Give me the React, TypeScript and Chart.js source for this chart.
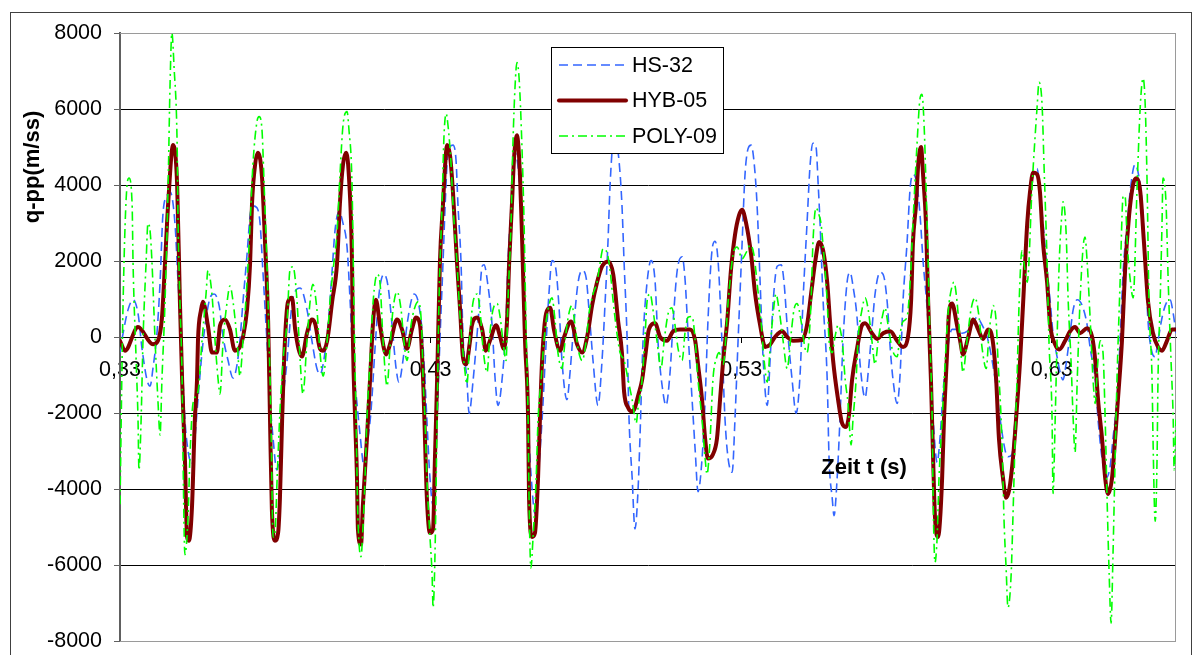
import React, { useEffect, useRef } from 'react';
import { Chart, registerables } from 'chart.js';

Chart.register(...registerables);

const FONT = 'Arial, "Liberation Sans", Helvetica, sans-serif';

const seriesNames = ['HS-32', 'HYB-05', 'POLY-09'];
const xTickValues = [0.33, 0.43, 0.53, 0.63];
const xTickLabels = ['0,33', '0,43', '0,53', '0,63'];
const yTickValues = [-8000, -6000, -4000, -2000, 0, 2000, 4000, 6000, 8000];
const xAxisTitle = 'Zeit t (s)';
const yAxisTitle = 'q-pp(m/ss)';

// HS-32 (blue dashed)
const hsTime = [
  0.3300, 0.3310, 0.3326, 0.3342, 0.3358, 0.3371, 0.3387, 0.3397, 0.3406, 0.3419,
  0.3429, 0.3438, 0.3451, 0.3461, 0.3477, 0.3487, 0.3500, 0.3509, 0.3519, 0.3532,
  0.3541, 0.3551, 0.3564, 0.3574, 0.3590, 0.3603, 0.3619, 0.3632, 0.3648, 0.3664,
  0.3677, 0.3686, 0.3696, 0.3709, 0.3719, 0.3728, 0.3741, 0.3751, 0.3760, 0.3773,
  0.3783, 0.3793, 0.3805, 0.3815, 0.3825, 0.3838, 0.3847, 0.3857, 0.3880, 0.3902,
  0.3918, 0.3934, 0.3944, 0.3954, 0.3970, 0.3983, 0.3992, 0.4005, 0.4018, 0.4031,
  0.4041, 0.4050, 0.4063, 0.4073, 0.4086, 0.4095, 0.4108, 0.4121, 0.4134, 0.4150,
  0.4163, 0.4176, 0.4189, 0.4198, 0.4211, 0.4224, 0.4240, 0.4247, 0.4260, 0.4272,
  0.4282, 0.4288, 0.4298, 0.4308, 0.4314, 0.4321, 0.4330, 0.4340, 0.4347, 0.4356,
  0.4372, 0.4382, 0.4388, 0.4398, 0.4404, 0.4417, 0.4424, 0.4437, 0.4453, 0.4466,
  0.4472, 0.4485, 0.4498, 0.4508, 0.4517, 0.4530, 0.4543, 0.4549, 0.4562, 0.4572,
  0.4582, 0.4594, 0.4604, 0.4614, 0.4627, 0.4636, 0.4646, 0.4659, 0.4669, 0.4681,
  0.4691, 0.4704, 0.4714, 0.4723, 0.4739, 0.4749, 0.4759, 0.4775, 0.4788, 0.4801,
  0.4810, 0.4823, 0.4839, 0.4852, 0.4862, 0.4871, 0.4878, 0.4891, 0.4904, 0.4916,
  0.4923, 0.4933, 0.4939, 0.4949, 0.4958, 0.4968, 0.4974, 0.4984, 0.4997, 0.5010,
  0.5023, 0.5032, 0.5048, 0.5058, 0.5071, 0.5081, 0.5094, 0.5110, 0.5119, 0.5129,
  0.5142, 0.5152, 0.5161, 0.5174, 0.5184, 0.5193, 0.5206, 0.5216, 0.5226, 0.5238,
  0.5248, 0.5258, 0.5271, 0.5280, 0.5290, 0.5303, 0.5312, 0.5322, 0.5332, 0.5341,
  0.5351, 0.5361, 0.5371, 0.5384, 0.5393, 0.5403, 0.5416, 0.5429, 0.5438, 0.5448,
  0.5464, 0.5477, 0.5490, 0.5499, 0.5512, 0.5522, 0.5531, 0.5541, 0.5548, 0.5554,
  0.5564, 0.5577, 0.5583, 0.5593, 0.5599, 0.5609, 0.5618, 0.5628, 0.5641, 0.5651,
  0.5660, 0.5673, 0.5683, 0.5699, 0.5709, 0.5721, 0.5731, 0.5747, 0.5757, 0.5770,
  0.5780, 0.5789, 0.5802, 0.5812, 0.5821, 0.5834, 0.5844, 0.5853, 0.5866, 0.5876,
  0.5886, 0.5899, 0.5908, 0.5918, 0.5931, 0.5940, 0.5950, 0.5963, 0.5979, 0.5995,
  0.6011, 0.6027, 0.6043, 0.6059, 0.6076, 0.6092, 0.6101, 0.6118, 0.6134, 0.6150,
  0.6159, 0.6172, 0.6182, 0.6192, 0.6204, 0.6214, 0.6224, 0.6237, 0.6253, 0.6262,
  0.6272, 0.6285, 0.6295, 0.6304, 0.6317, 0.6327, 0.6336, 0.6346, 0.6359, 0.6369,
  0.6382, 0.6398, 0.6414, 0.6424, 0.6440, 0.6449, 0.6462, 0.6475, 0.6488, 0.6497,
  0.6510, 0.6520, 0.6530, 0.6543, 0.6555, 0.6568, 0.6578, 0.6591, 0.6601, 0.6610,
  0.6623, 0.6633, 0.6642, 0.6658, 0.6671, 0.6681, 0.6691, 0.6700,
];
const hsValue = [
  -410, 100, 720, 980, 620, -310, -1130, -1290, -830, 100,
  1440, 3200, 3710, 3820, 2990, 1440, -620, -2170, -2990, -3350,
  -2680, -1650, -410, 310, 1030, 1130, 830, 0, -620, -1080,
  -720, -100, 930, 2170, 3200, 3450, 3400, 2990, 1750, -100,
  -1650, -2680, -3500, -2990, -1650, -620, 310, 1030, 1290, 720,
  -100, -830, -980, -720, 310, 1750, 2780, 3300, 2990, 2370,
  930, -620, -1750, -2580, -3400, -2890, -1960, -310, 1130, 1650,
  1340, 310, -830, -1190, -620, 310, 1030, 1130, 930, 200,
  -1130, -2170, -3710, -4430, -3710, -2170, -100, 1960, 3500, 4850,
  5050, 4640, 3500, 1960, 100, -1130, -2010, -1130, 410, 1860,
  1900, 1340, 310, -1130, -1800, -1130, 410, 1960, 3710, 4850,
  4430, 2780, 410, -2170, -4020, -4640, -3710, -2170, -620, 1130,
  2010, 1750, 720, -620, -1650, -930, 100, 1440, 1750, 1550,
  720, -620, -1800, -620, 930, 2470, 4020, 5300, 4850, 3500,
  1960, -100, -2170, -3710, -5050, -4020, -2680, -100, 1440, 2010,
  1440, -100, -1440, -1800, -930, 410, 1750, 2110, 1550, 100,
  -1650, -2990, -4070, -3200, -1650, 410, 2270, 2520, 1960, -100,
  -2170, -3200, -3560, -2170, -100, 2470, 4230, 4950, 5050, 4640,
  3500, 1440, -620, -1800, -620, 930, 1860, 1900, 1440, 310,
  -1130, -2010, -930, 930, 2990, 4540, 5100, 5000, 4000, 2990,
  930, -1130, -3200, -4230, -4700, -3710, -2170, -100, 1440, 1700,
  1340, 520, -720, -1600, -930, 200, 1130, 1700, 1650, 930,
  -310, -1130, -1750, -930, 930, 2470, 3920, 4280, 4020, 3200,
  1960, 720, -620, -2170, -3300, -2680, -1440, -410, 200, 200,
  100, 150, 310, 520, 310, 0, -310, -1130, -2170, -2990,
  -3150, -3090, -2170, -1130, 410, 1960, 3200, 4230, 4430, 3820,
  2990, 1750, 930, 100, -515, -930, -1130, -720, 100, 720,
  980, 830, 310, -310, -1130, -2170, -3200, -3710, -3400, -2680,
  -1650, -100, 1750, 2990, 4020, 4540, 4330, 3500, 1960, 410,
  -410, -520, -100, 620, 930, 980, 620, 100,
];

// HYB-05 (dark red, thick)
const hybTime = [
  0.3300, 0.3316, 0.3358, 0.3406, 0.3422, 0.3435, 0.3445, 0.3455, 0.3471, 0.3484,
  0.3493, 0.3500, 0.3509, 0.3516, 0.3522, 0.3532, 0.3541, 0.3548, 0.3551, 0.3561,
  0.3567, 0.3583, 0.3596, 0.3612, 0.3622, 0.3638, 0.3654, 0.3670, 0.3686, 0.3696,
  0.3709, 0.3719, 0.3725, 0.3735, 0.3744, 0.3757, 0.3767, 0.3777, 0.3783, 0.3789,
  0.3799, 0.3809, 0.3815, 0.3822, 0.3831, 0.3841, 0.3854, 0.3864, 0.3886, 0.3902,
  0.3918, 0.3928, 0.3944, 0.3954, 0.3967, 0.3983, 0.3999, 0.4008, 0.4018, 0.4028,
  0.4037, 0.4047, 0.4050, 0.4057, 0.4063, 0.4066, 0.4076, 0.4082, 0.4095, 0.4105,
  0.4115, 0.4124, 0.4137, 0.4157, 0.4169, 0.4192, 0.4208, 0.4224, 0.4240, 0.4253,
  0.4266, 0.4276, 0.4282, 0.4288, 0.4298, 0.4308, 0.4314, 0.4321, 0.4330, 0.4340,
  0.4347, 0.4353, 0.4363, 0.4372, 0.4385, 0.4395, 0.4404, 0.4414, 0.4427, 0.4433,
  0.4450, 0.4466, 0.4478, 0.4491, 0.4511, 0.4524, 0.4536, 0.4546, 0.4553, 0.4562,
  0.4569, 0.4578, 0.4588, 0.4595, 0.4604, 0.4614, 0.4617, 0.4627, 0.4636, 0.4646,
  0.4652, 0.4659, 0.4672, 0.4685, 0.4697, 0.4717, 0.4730, 0.4752, 0.4772, 0.4788,
  0.4804, 0.4820, 0.4836, 0.4852, 0.4872, 0.4888, 0.4904, 0.4916, 0.4923, 0.4936,
  0.4949, 0.4958, 0.4968, 0.4981, 0.4991, 0.5003, 0.5023, 0.5039, 0.5061, 0.5081,
  0.5103, 0.5135, 0.5152, 0.5161, 0.5174, 0.5184, 0.5193, 0.5209, 0.5222, 0.5232,
  0.5242, 0.5255, 0.5267, 0.5280, 0.5293, 0.5303, 0.5316, 0.5332, 0.5345, 0.5361,
  0.5377, 0.5393, 0.5409, 0.5432, 0.5448, 0.5467, 0.5496, 0.5512, 0.5525, 0.5538,
  0.5551, 0.5564, 0.5577, 0.5586, 0.5596, 0.5612, 0.5625, 0.5638, 0.5647, 0.5657,
  0.5673, 0.5689, 0.5699, 0.5721, 0.5738, 0.5757, 0.5780, 0.5802, 0.5821, 0.5837,
  0.5847, 0.5853, 0.5863, 0.5870, 0.5879, 0.5886, 0.5895, 0.5902, 0.5911, 0.5918,
  0.5924, 0.5934, 0.5940, 0.5947, 0.5953, 0.5963, 0.5969, 0.5979, 0.5995, 0.6005,
  0.6014, 0.6031, 0.6047, 0.6063, 0.6079, 0.6095, 0.6108, 0.6121, 0.6130, 0.6143,
  0.6153, 0.6163, 0.6175, 0.6185, 0.6198, 0.6208, 0.6221, 0.6230, 0.6240, 0.6253,
  0.6262, 0.6272, 0.6285, 0.6295, 0.6311, 0.6324, 0.6343, 0.6359, 0.6375, 0.6391,
  0.6414, 0.6430, 0.6440, 0.6449, 0.6462, 0.6472, 0.6481, 0.6494, 0.6504, 0.6513,
  0.6526, 0.6536, 0.6549, 0.6562, 0.6572, 0.6585, 0.6597, 0.6610, 0.6626, 0.6642,
  0.6655, 0.6671, 0.6687, 0.6700,
];
const hybValue = [
  -100, -360, 260, -190, -100, 500, 1960, 3500, 5050, 4000,
  900, -1130, -3200, -5260, -5360, -4430, -2170, -1130, -100, 720,
  930, 300, -410, -410, 300, 460, 200, -360, -260, 0,
  720, 1960, 3500, 4540, 4850, 4230, 2470, 400, -2170, -4540,
  -5360, -5160, -4230, -2170, -100, 930, 1030, 200, -515, 100,
  460, 360, -310, -360, -100, 930, 1960, 3500, 4540, 4850,
  4230, 1960, -100, -2170, -3710, -5050, -5460, -4430, -2680, -1130,
  410, 980, 310, -460, -200, 460, 200, -310, 200, 510,
  310, -1130, -2680, -4230, -5160, -5050, -3200, -1130, 1960, 3500,
  4540, 5050, 4750, 3820, 1960, 720, -515, -720, -100, 310,
  515, 200, -360, -100, 310, 0, -310, 410, 1960, 3500,
  4740, 5310, 4230, 2470, -100, -2170, -4230, -5260, -5160, -3710,
  -2170, -620, 620, 770, 200, -360, 0, 410, -200, -410,
  0, 830, 1440, 1860, 1990, 1650, 410, -410, -1440, -1860,
  -1960, -1860, -1550, -1130, -515, 200, 360, 0, -100, 150,
  200, 200, -100, -720, -1650, -2680, -3200, -3090, -2680, -1650,
  -620, 410, 1750, 2680, 3200, 3350, 2990, 2170, 1130, 310,
  -260, -200, 0, 150, 0, -100, -80, 310, 1130, 1960,
  2500, 2270, 1440, 410, -620, -1650, -2270, -2370, -2060, -1130,
  -310, 310, 360, 100, -50, 100, 150, -100, -260, 0,
  930, 2470, 3500, 4540, 5000, 4230, 2990, 930, -1130, -3200,
  -4740, -5260, -4850, -3710, -2170, -410, 620, 880, 310, -100,
  -460, 0, 460, 200, -50, 200, 0, -1130, -2680, -3710,
  -4230, -4020, -3200, -2170, -620, 930, 2990, 3820, 4330, 4280,
  3820, 2470, 1440, 310, -200, -330, -100, 150, 260, 100,
  230, 0, -620, -1650, -2680, -3710, -4130, -3710, -2680, -1650,
  -100, 1750, 3200, 4020, 4180, 3820, 2470, 930, 100, -260,
  -360, -100, 200, 200,
];

// POLY-09 (green dash-dot)
const polyTime = [
  0.3300, 0.3310, 0.3323, 0.3329, 0.3339, 0.3342, 0.3352, 0.3358, 0.3361, 0.3368,
  0.3374, 0.3384, 0.3390, 0.3397, 0.3403, 0.3413, 0.3422, 0.3429, 0.3435, 0.3445,
  0.3455, 0.3461, 0.3467, 0.3474, 0.3484, 0.3487, 0.3493, 0.3500, 0.3503, 0.3509,
  0.3519, 0.3525, 0.3535, 0.3551, 0.3564, 0.3577, 0.3583, 0.3596, 0.3606, 0.3616,
  0.3622, 0.3632, 0.3645, 0.3654, 0.3664, 0.3677, 0.3686, 0.3696, 0.3709, 0.3719,
  0.3728, 0.3741, 0.3748, 0.3757, 0.3764, 0.3773, 0.3780, 0.3786, 0.3793, 0.3799,
  0.3806, 0.3815, 0.3825, 0.3838, 0.3847, 0.3857, 0.3870, 0.3880, 0.3889, 0.3902,
  0.3912, 0.3921, 0.3934, 0.3944, 0.3954, 0.3967, 0.3976, 0.3986, 0.3999, 0.4008,
  0.4018, 0.4031, 0.4037, 0.4047, 0.4053, 0.4060, 0.4066, 0.4076, 0.4082, 0.4089,
  0.4095, 0.4105, 0.4115, 0.4128, 0.4137, 0.4147, 0.4160, 0.4169, 0.4179, 0.4192,
  0.4205, 0.4214, 0.4224, 0.4237, 0.4247, 0.4260, 0.4272, 0.4276, 0.4282, 0.4288,
  0.4298, 0.4305, 0.4308, 0.4314, 0.4321, 0.4327, 0.4337, 0.4343, 0.4350, 0.4356,
  0.4366, 0.4372, 0.4385, 0.4392, 0.4401, 0.4411, 0.4417, 0.4427, 0.4437, 0.4450,
  0.4459, 0.4469, 0.4482, 0.4491, 0.4501, 0.4514, 0.4524, 0.4533, 0.4543, 0.4549,
  0.4559, 0.4565, 0.4572, 0.4578, 0.4585, 0.4594, 0.4601, 0.4607, 0.4614, 0.4617,
  0.4623, 0.4630, 0.4640, 0.4646, 0.4656, 0.4665, 0.4678, 0.4691, 0.4701, 0.4710,
  0.4723, 0.4733, 0.4743, 0.4755, 0.4765, 0.4775, 0.4788, 0.4801, 0.4810, 0.4823,
  0.4836, 0.4846, 0.4855, 0.4868, 0.4878, 0.4888, 0.4900, 0.4910, 0.4923, 0.4936,
  0.4949, 0.4962, 0.4968, 0.4981, 0.4991, 0.4997, 0.5007, 0.5016, 0.5029, 0.5042,
  0.5052, 0.5065, 0.5077, 0.5087, 0.5097, 0.5110, 0.5119, 0.5129, 0.5142, 0.5152,
  0.5161, 0.5174, 0.5184, 0.5190, 0.5200, 0.5209, 0.5222, 0.5229, 0.5242, 0.5258,
  0.5274, 0.5287, 0.5303, 0.5316, 0.5329, 0.5341, 0.5351, 0.5364, 0.5374, 0.5384,
  0.5393, 0.5403, 0.5412, 0.5422, 0.5435, 0.5448, 0.5461, 0.5470, 0.5480, 0.5493,
  0.5506, 0.5512, 0.5525, 0.5531, 0.5541, 0.5551, 0.5557, 0.5564, 0.5577, 0.5583,
  0.5593, 0.5602, 0.5612, 0.5625, 0.5635, 0.5644, 0.5654, 0.5660, 0.5670, 0.5676,
  0.5689, 0.5699, 0.5709, 0.5721, 0.5731, 0.5741, 0.5754, 0.5763, 0.5773, 0.5786,
  0.5802, 0.5812, 0.5821, 0.5834, 0.5844, 0.5853, 0.5866, 0.5876, 0.5882, 0.5889,
  0.5895, 0.5902, 0.5908, 0.5915, 0.5918, 0.5924, 0.5931, 0.5937, 0.5947, 0.5957,
  0.5966, 0.5979, 0.5985, 0.5995, 0.6005, 0.6014, 0.6027, 0.6040, 0.6053, 0.6066,
  0.6076, 0.6089, 0.6098, 0.6108, 0.6111, 0.6121, 0.6127, 0.6137, 0.6143, 0.6146,
  0.6153, 0.6159, 0.6169, 0.6175, 0.6182, 0.6188, 0.6195, 0.6204, 0.6214, 0.6221,
  0.6237, 0.6253, 0.6259, 0.6269, 0.6275, 0.6285, 0.6291, 0.6301, 0.6304, 0.6311,
  0.6317, 0.6324, 0.6333, 0.6336, 0.6346, 0.6353, 0.6362, 0.6369, 0.6375, 0.6382,
  0.6391, 0.6401, 0.6407, 0.6414, 0.6424, 0.6433, 0.6440, 0.6446, 0.6456, 0.6465,
  0.6472, 0.6478, 0.6485, 0.6491, 0.6497, 0.6504, 0.6510, 0.6520, 0.6530, 0.6536,
  0.6543, 0.6552, 0.6562, 0.6575, 0.6585, 0.6594, 0.6601, 0.6607, 0.6613, 0.6623,
  0.6626, 0.6633, 0.6639, 0.6642, 0.6649, 0.6655, 0.6658, 0.6668, 0.6675, 0.6684,
  0.6691, 0.6694, 0.6700,
];
const polyValue = [
  -4400, 930, 4020, 4180, 3500, 1960, -620, -2170, -3500, -2170,
  -100, 1960, 2990, 2780, 1960, -100, -1650, -2580, -1130, 930,
  4020, 6600, 8000, 7110, 5050, 2990, 930, -1130, -3200, -5730,
  -4740, -3200, -1750, -1440, -100, 1130, 1750, 1130, -100, -1130,
  -1500, -100, 930, 1340, 930, -100, -1030, -100, 1440, 2990,
  4540, 5670, 5800, 5470, 4020, 1960, -100, -2170, -5260, -5160,
  -3710, -1960, -620, 410, 1750, 1850, 930, -620, -1500, -100,
  930, 1390, 720, -410, -1030, -100, 930, 1750, 2780, 4230,
  5570, 5930, 5470, 4020, 930, -2170, -4740, -5780, -5050, -3710,
  -2170, -620, 930, 1650, 1440, -100, -1290, -310, 720, 1190,
  720, -100, -620, 310, 720, 930, 100, -1130, -2170, -3710,
  -5260, -6290, -7120, -5780, -2170, 930, 3500, 5260, 5880, 5570,
  4540, 3500, 1960, 930, -100, -930, -1240, 100, 930, 1130,
  720, -310, -930, 100, 720, 880, 520, -100, -620, 930,
  2990, 5050, 6600, 7220, 6810, 5050, 2990, 410, -2170, -4230,
  -6080, -5260, -3710, -2170, -1130, -100, 720, 1030, 410, -410,
  -830, -100, 520, 830, 310, -310, -620, -100, 620, 1130,
  1440, 1960, 2320, 2220, 1750, 930, 100, -410, -620, -1130,
  -1650, -2270, -1860, -1130, 100, 930, 1130, 720, -100, -830,
  -100, 620, 770, 310, -310, -620, 100, 520, 540, -100,
  -1130, -2170, -3200, -3610, -2680, -1130, -515, -410, -720, 930,
  2170, 2370, 2060, 2220, 2420, 2170, 1440, 410, -620, -1190,
  -310, 620, 1130, 720, -100, -830, 100, 720, 880, 410,
  -310, -410, 930, 2470, 3400, 3200, 2990, 2370, 930, -100,
  -410, 0, 310, -100, -1130, -1750, -2840, -2170, -1130, -100,
  720, 1030, 720, -100, -720, -100, 520, 770, 310, -310,
  -520, 100, 410, 520, 1440, 2990, 5050, 6290, 6390, 5570,
  4020, 1960, -100, -2170, -4230, -5930, -5260, -3710, -2170, -620,
  620, 1340, 1440, 930, -100, -930, -100, 720, 1030, 520,
  -310, -830, 100, 720, 830, 410, -620, -2170, -3710, -4740,
  -6080, -7120, -6290, -4740, -2680, -1130, 930, 2270, 1750, 1440,
  4020, 6080, 6700, 6080, 4540, 1960, -100, -2170, -4120, -2170,
  -100, 1960, 3300, 3560, 2780, 930, -620, -2170, -3040, -1130,
  930, 2370, 2630, 1960, 410, -1130, -1750, -930, -100, -410,
  -2170, -4230, -6290, -7530, -5780, -3200, -1130, 1440, 3710, 3710,
  2470, 1550, 1030, 4020, 6080, 6810, 6080, 4020, 930, -1130,
  -2680, -4850, -3200, -1130, 930, 2990, 4180, 3500, 1440, -620,
  -2170, -3500, -2170,
];

function toPoints(t: number[], v: number[]) {
  const n = Math.min(t.length, v.length);
  const pts: { x: number; y: number }[] = [];
  for (let i = 0; i < n; i++) pts.push({ x: t[i], y: v[i] });
  return pts;
}

const decorPlugin = {
  id: 'decor',
  beforeDraw(chart: any) {
    const { ctx, width, height } = chart;
    ctx.save();
    ctx.fillStyle = '#ffffff';
    ctx.fillRect(0, 0, width, height);
    ctx.strokeStyle = '#404040';
    ctx.lineWidth = 1;
    ctx.strokeRect(10.5, 12.5, 1181, 700);
    ctx.restore();
  },
  beforeDatasetsDraw(chart: any) {
    const { ctx, chartArea: a } = chart;
    const l = Math.round(a.left);
    const t = Math.round(a.top);
    const r = Math.round(a.right);
    const b = Math.round(a.bottom);
    ctx.save();
    ctx.strokeStyle = '#9a9a9a';
    ctx.lineWidth = 1;
    ctx.beginPath();
    ctx.moveTo(l, t + 0.5);
    ctx.lineTo(r - 0.5, t + 0.5);
    ctx.lineTo(r - 0.5, b + 0.5);
    ctx.lineTo(l, b + 0.5);
    ctx.stroke();
    ctx.restore();
  },
  afterDatasetsDraw(chart: any) {
    const { ctx } = chart;
    ctx.save();
    // legend box
    const bx = 551, by = 47, bw = 172, bh = 106;
    ctx.fillStyle = '#ffffff';
    ctx.fillRect(bx, by, bw, bh);
    ctx.strokeStyle = '#000000';
    ctx.lineWidth = 1;
    ctx.strokeRect(bx + 0.5, by + 0.5, bw, bh);
    const rowY = [65, 100.5, 136];
    chart.data.datasets.forEach((ds: any, i: number) => {
      ctx.save();
      ctx.strokeStyle = ds.borderColor;
      ctx.lineWidth = ds.borderWidth;
      ctx.setLineDash(ds.borderDash || []);
      ctx.lineCap = ds.borderCapStyle || 'butt';
      ctx.beginPath();
      ctx.moveTo(559, rowY[i]);
      ctx.lineTo(626, rowY[i]);
      ctx.stroke();
      ctx.restore();
      ctx.fillStyle = '#000000';
      ctx.font = `21.5px ${FONT}`;
      ctx.textAlign = 'left';
      ctx.textBaseline = 'middle';
      ctx.fillText(ds.label, 632, rowY[i] + 1);
    });
    // axis titles
    ctx.fillStyle = '#000000';
    ctx.font = `bold 22px ${FONT}`;
    ctx.textAlign = 'center';
    ctx.textBaseline = 'middle';
    ctx.fillText(xAxisTitle, 864, 468);
    ctx.translate(33, 167);
    ctx.rotate(-Math.PI / 2);
    ctx.fillText(yAxisTitle, 0, 0);
    ctx.restore();
  },
};

export default function App() {
  const ref = useRef<HTMLCanvasElement | null>(null);

  useEffect(() => {
    const canvas = ref.current;
    if (!canvas) return;
    Chart.defaults.font.family = FONT;
    Chart.defaults.color = '#000000';
    const chart = new Chart(canvas, {
      type: 'line',
      data: {
        datasets: [
          {
            label: seriesNames[0],
            data: toPoints(hsTime, hsValue),
            borderColor: '#3366ff',
            borderWidth: 1.6,
            borderDash: [9, 5],
            pointRadius: 0,
            fill: false,
            cubicInterpolationMode: 'monotone',
            order: 2,
          },
          {
            label: seriesNames[1],
            data: toPoints(hybTime, hybValue),
            borderColor: '#800000',
            borderWidth: 4,
            borderCapStyle: 'round',
            borderJoinStyle: 'round',
            pointRadius: 0,
            fill: false,
            cubicInterpolationMode: 'monotone',
            order: 1,
          },
          {
            label: seriesNames[2],
            data: toPoints(polyTime, polyValue),
            borderColor: '#00ff00',
            borderWidth: 1.6,
            borderDash: [9, 4, 2, 4],
            pointRadius: 0,
            fill: false,
            cubicInterpolationMode: 'monotone',
            order: 0,
          },
        ] as any,
      },
      options: {
        responsive: false,
        animation: false,
        devicePixelRatio: 1,
        events: [],
        layout: { padding: { left: 0, top: 33, right: 19, bottom: 14 } },
        plugins: {
          legend: { display: false },
          tooltip: { enabled: false },
          title: { display: false },
        },
        scales: {
          x: {
            type: 'linear',
            position: { y: 0 } as any,
            min: 0.33,
            max: 0.67,
            afterBuildTicks: (scale: any) => {
              scale.ticks = xTickValues.map((v) => ({ value: v }));
            },
            ticks: {
              autoSkip: false,
              maxRotation: 0,
              minRotation: 0,
              color: '#000000',
              padding: 15,
              font: { size: 21.5, family: FONT },
              callback: (_v: any, i: number) => xTickLabels[i],
            },
            grid: {
              drawOnChartArea: false,
              drawTicks: true,
              tickLength: 5,
              color: '#000000',
              tickColor: '#000000',
            },
            border: { display: true, color: '#000000', width: 1 },
          },
          y: {
            type: 'linear',
            min: -8000,
            max: 8000,
            afterBuildTicks: (scale: any) => {
              scale.ticks = yTickValues.map((v) => ({ value: v }));
            },
            afterFit: (scale: any) => {
              scale.width = 120;
              scale.paddingTop = 0;
              scale.paddingBottom = 0;
            },
            ticks: {
              color: '#000000',
              padding: 12,
              font: { size: 21.5, family: FONT },
              callback: (v: any) => String(v),
            },
            grid: {
              color: (ctx: any) =>
                ctx.tick && Math.abs(ctx.tick.value) === 8000 ? '#9a9a9a' : '#000000',
              lineWidth: 1,
              drawTicks: true,
              tickLength: 6,
              tickColor: '#606060',
            },
            border: { display: true, color: '#606060', width: 2 },
          },
        },
      } as any,
      plugins: [decorPlugin],
    });
    return () => chart.destroy();
  }, []);

  return (
    <div style={{ position: 'fixed', left: 0, top: 0, width: 1195, height: 655, background: '#ffffff' }}>
      <canvas ref={ref} width={1195} height={655} style={{ display: 'block', width: 1195, height: 655 }} />
    </div>
  );
}
